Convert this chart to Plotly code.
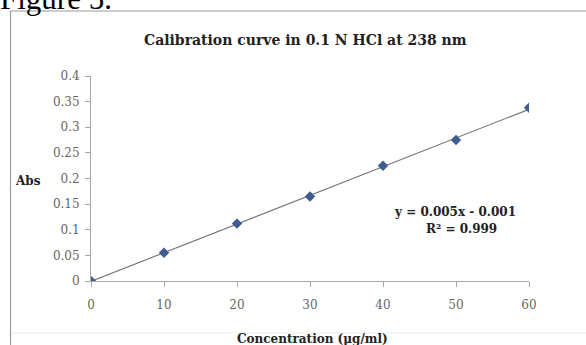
import numpy as np
import plotly.graph_objects as go

concentration = [0, 10, 20, 30, 40, 50, 60]
absorbance = [0.0, 0.055, 0.112, 0.165, 0.225, 0.275, 0.338]
x_ticks = [0, 10, 20, 30, 40, 50, 60]
y_ticks = [0, 0.05, 0.1, 0.15, 0.2, 0.25, 0.3, 0.35, 0.4]
y_ticktext = ["0", "0.05", "0.1", "0.15", "0.2", "0.25", "0.3", "0.35", "0.4"]
title_text = "Calibration curve in 0.1 N HCl at 238 nm"
equation_text = "y = 0.005x - 0.001"
r2_text = "R\u00b2 = 0.999"

W, H = 586, 345
L, R, T, B = 91, 57, 76, 64
pw, ph = W - L - R, H - T - B

def px_x(p):
    return (p - L) / pw

def px_y(p):
    return (H - B - p) / ph

slope, intercept = np.polyfit(concentration, absorbance, 1)
fit_x = [concentration[0], concentration[-1]]
fit_y = [slope * v + intercept for v in fit_x]

serif = "DejaVu Serif, serif"
times = "Liberation Serif, Times New Roman, serif"

fig = go.Figure()
fig.add_trace(go.Scatter(x=fit_x, y=fit_y, mode="lines",
                         line=dict(color="#707070", width=1.1),
                         hoverinfo="skip", showlegend=False))
fig.add_trace(go.Scatter(x=concentration, y=absorbance, mode="markers",
                         marker=dict(symbol="diamond", size=8, color="#3d5c8f",
                                     line=dict(width=0)),
                         showlegend=False))

fig.update_layout(
    width=W, height=H,
    margin=dict(l=L, r=R, t=T, b=B),
    paper_bgcolor="white", plot_bgcolor="white",
    font=dict(family=serif, color="#000"),
    showlegend=False,
)
fig.update_xaxes(range=[0, 60], tickvals=x_ticks, ticktext=[str(v) for v in x_ticks],
                 showgrid=False, zeroline=False, showline=True, linecolor="#a8a8a8",
                 linewidth=1, ticks="outside", ticklen=5, tickcolor="#a8a8a8",
                 tickfont=dict(family=serif, size=12, color="#666"),
                 ticklabelstandoff=8)
fig.update_yaxes(range=[0, 0.4], tickvals=y_ticks, ticktext=y_ticktext,
                 showgrid=False, zeroline=False, showline=True, linecolor="#a8a8a8",
                 linewidth=1, ticks="outside", ticklen=5, tickcolor="#a8a8a8",
                 tickfont=dict(family=serif, size=12, color="#666"),
                 ticklabelstandoff=3)

# chart border (left and top edges visible), faint bottom band line
fig.add_shape(type="line", xref="paper", yref="paper",
              x0=px_x(10.5), x1=px_x(10.5), y0=px_y(346), y1=px_y(11),
              line=dict(color="#9a9a9a", width=1.2), layer="below")
fig.add_shape(type="line", xref="paper", yref="paper",
              x0=px_x(10.5), x1=px_x(590), y0=px_y(11), y1=px_y(11),
              line=dict(color="#9a9a9a", width=1.2), layer="below")
fig.add_shape(type="line", xref="paper", yref="paper",
              x0=px_x(11), x1=px_x(590), y0=px_y(333), y1=px_y(333),
              line=dict(color="#ececec", width=1), layer="below")

ann = []
ann.append(dict(text="Figure 5.", x=px_x(-2), y=px_y(-2), xanchor="left", yanchor="middle",
                font=dict(family=times, size=31, color="#000")))
ann.append(dict(text="<b>" + title_text + "</b>", x=px_x(305), y=px_y(40),
                xanchor="center", yanchor="middle",
                font=dict(family=serif, size=14, color="#222")))
ann.append(dict(text="<b>Abs</b>", x=px_x(28), y=px_y(181), xanchor="center", yanchor="middle",
                font=dict(family=serif, size=12, color="#222")))
ann.append(dict(text="<b>Concentration (\u03bcg/ml)</b>", x=px_x(312), y=px_y(339),
                xanchor="center", yanchor="middle",
                font=dict(family=serif, size=12, color="#222")))
ann.append(dict(text="<b>" + equation_text + "</b>", x=px_x(455), y=px_y(212),
                xanchor="center", yanchor="middle",
                font=dict(family=serif, size=12, color="#222")))
ann.append(dict(text="<b>" + r2_text + "</b>", x=px_x(461), y=px_y(229),
                xanchor="center", yanchor="middle",
                font=dict(family=serif, size=12, color="#222")))
for a in ann:
    a.update(xref="paper", yref="paper", showarrow=False)
fig.update_layout(annotations=ann)

fig.write_html("out.html")
